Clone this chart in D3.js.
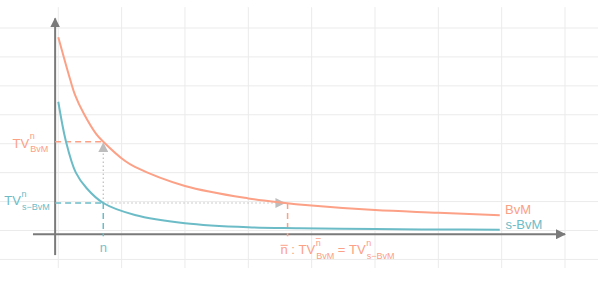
<!DOCTYPE html>
<html lang="en">
<head>
<meta charset="UTF-8">
<title>TV BvM vs s-BvM</title>
<style>
  body { margin: 0; padding: 0; background: #fff; }
  svg text { font-family: "Liberation Sans", Arial, sans-serif; }
</style>
</head>
<body>
<div id="chart"></div>
<script src="https://d3js.org/d3.v7.min.js"></script>
<script>
// values (x in grid units, y in grid units)
const bvmX = [0, 0.19, 0.264, 0.4, 0.6, 0.71, 1.05, 1.21, 2, 3, 3.55, 3.9, 5, 6, 6.97];
const bvmY = [6.68, 5.2, 4.69, 4.05, 3.33, 3.07, 2.41, 2.2, 1.54, 1.11, 0.96, 0.88, 0.705, 0.615, 0.525];
const sbvmX = [0, 0.122, 0.275, 0.448, 0.71, 1.21, 2, 3, 3.8, 5, 6, 6.97];
const sbvmY = [4.45, 3.07, 2.01, 1.46, 0.95, 0.536, 0.25, 0.11, 0.08, 0.05, 0.035, 0.028];
const nVal = 0.71;
const nBar = 3.62;
const tvBvm = 3.07;
const tvSbvm = 0.95;
const gridX = [0, 1, 2, 3, 4, 5, 6, 7, 8];
const gridY = [-1, 0, 1, 2, 3, 4, 5, 6, 7];

const W = 598, H = 299;
const orange = "#fca086", blue = "#6cbcc7", axisCol = "#7a7a7a";

const x = d3.scaleLinear().domain([0, 8]).range([58.3, 565]);
const y = d3.scaleLinear().domain([0, 7]).range([230.5, 28]);

const svg = d3.select("#chart").append("svg")
  .attr("width", W).attr("height", H);

const defs = svg.append("defs");
function marker(id, col) {
  defs.append("marker").attr("id", id)
    .attr("viewBox", "0 0 10 10").attr("refX", 9).attr("refY", 5)
    .attr("markerWidth", 10).attr("markerHeight", 10)
    .attr("markerUnits", "userSpaceOnUse").attr("orient", "auto")
    .append("path").attr("d", "M0,0L10,5L0,10Z").attr("fill", col);
}
marker("arrAxis", axisCol);
marker("arrDot", "#bdbdbd");

// grid
svg.append("g").selectAll("line").data(gridY).enter().append("line")
  .attr("x1", 0).attr("x2", W)
  .attr("y1", d => y(d)).attr("y2", d => y(d))
  .attr("stroke", "#ebebeb").attr("stroke-width", 1);
svg.append("g").selectAll("line").data(gridX).enter().append("line")
  .attr("x1", d => x(d)).attr("x2", d => x(d))
  .attr("y1", y(7.72)).attr("y2", y(-1.3))
  .attr("stroke", "#ebebeb").attr("stroke-width", 1);

// axes
svg.append("line")
  .attr("x1", x(-0.4)).attr("x2", x(8))
  .attr("y1", y(-0.13)).attr("y2", y(-0.13))
  .attr("stroke", axisCol).attr("stroke-width", 2)
  .attr("marker-end", "url(#arrAxis)");
svg.append("line")
  .attr("x1", x(-0.05)).attr("x2", x(-0.05))
  .attr("y1", y(-0.85)).attr("y2", y(7.33))
  .attr("stroke", axisCol).attr("stroke-width", 2)
  .attr("marker-end", "url(#arrAxis)");

// dashed guides
function seg(x1, y1, x2, y2, col, dash, w) {
  return svg.append("line")
    .attr("x1", x(x1)).attr("y1", y(y1)).attr("x2", x(x2)).attr("y2", y(y2))
    .attr("stroke", col).attr("stroke-width", w || 1.5)
    .attr("stroke-dasharray", dash);
}
seg(-0.05, tvBvm, nVal, tvBvm, orange, "6,4");
seg(-0.05, tvSbvm, nVal, tvSbvm, blue, "6,4");
seg(nVal, tvSbvm, nVal, -0.2, blue, "6,4");
seg(nBar, tvSbvm, nBar, -0.2, orange, "6,4");

// dotted arrows
seg(nVal, tvSbvm, nVal, tvBvm - 0.05, "#bdbdbd", "1.5,2.5", 1.2)
  .attr("marker-end", "url(#arrDot)");
seg(nVal, tvSbvm, nBar - 0.05, tvSbvm, "#bdbdbd", "1.5,2.5", 1.2)
  .attr("marker-end", "url(#arrDot)");

// curves
const line = d3.line().x(d => x(d[0])).y(d => y(d[1])).curve(d3.curveCatmullRom.alpha(0.5));
svg.append("path").datum(bvmX.map((v, i) => [v, bvmY[i]]))
  .attr("d", line).attr("fill", "none").attr("stroke", orange).attr("stroke-width", 2);
svg.append("path").datum(sbvmX.map((v, i) => [v, sbvmY[i]]))
  .attr("d", line).attr("fill", "none").attr("stroke", blue).attr("stroke-width", 2);

// labels
function txt(px, py, s, size, col, anchor) {
  const t = svg.append("text").attr("x", px).attr("y", py)
    .attr("font-size", size).attr("fill", col).text(s);
  if (anchor) t.attr("text-anchor", anchor);
  return t;
}
function tv(px, base, sup, sub, col, supBar) {
  const t = txt(px, base, "TV", 13, col);
  const w = t.node().getComputedTextLength();
  const a = txt(px + w + 0.5, base - 8.5, sup, 9, col);
  const b = txt(px + w + 1, base + 4.5, sub, 9, col);
  const wa = a.node().getComputedTextLength();
  if (supBar) {
    svg.append("line").attr("x1", px + w + 0.5).attr("x2", px + w + 0.5 + wa)
      .attr("y1", base - 15.5).attr("y2", base - 15.5)
      .attr("stroke", col).attr("stroke-width", 0.8);
  }
  return px + w + 1 + Math.max(wa, b.node().getComputedTextLength());
}

tv(12.5, y(tvBvm) + 6, "n", "BvM", orange);
tv(4.3, y(tvSbvm) + 2, "n", "s\u2212BvM", blue);

txt(x(nVal), 252, "n", 13, "#78c1cc", "middle");

// bottom formula
let cx = 280.5;
const nb = txt(cx, 254, "n", 13, orange);
const nw = nb.node().getComputedTextLength();
svg.append("line").attr("x1", cx).attr("x2", cx + nw)
  .attr("y1", 245.3).attr("y2", 245.3).attr("stroke", orange).attr("stroke-width", 1);
cx += nw;
const c1 = txt(cx, 254, "\u00a0:\u00a0", 13, orange);
cx += c1.node().getComputedTextLength();
cx = tv(cx, 254, "n", "BvM", orange, true);
const c2 = txt(cx, 254, "\u00a0=\u00a0", 13, orange);
cx += c2.node().getComputedTextLength();
tv(cx, 254, "n", "s\u2212BvM", orange);

txt(505, 214, "BvM", 13, orange);
txt(505.5, 229.3, "s-BvM", 13, blue);
</script>
</body>
</html>
